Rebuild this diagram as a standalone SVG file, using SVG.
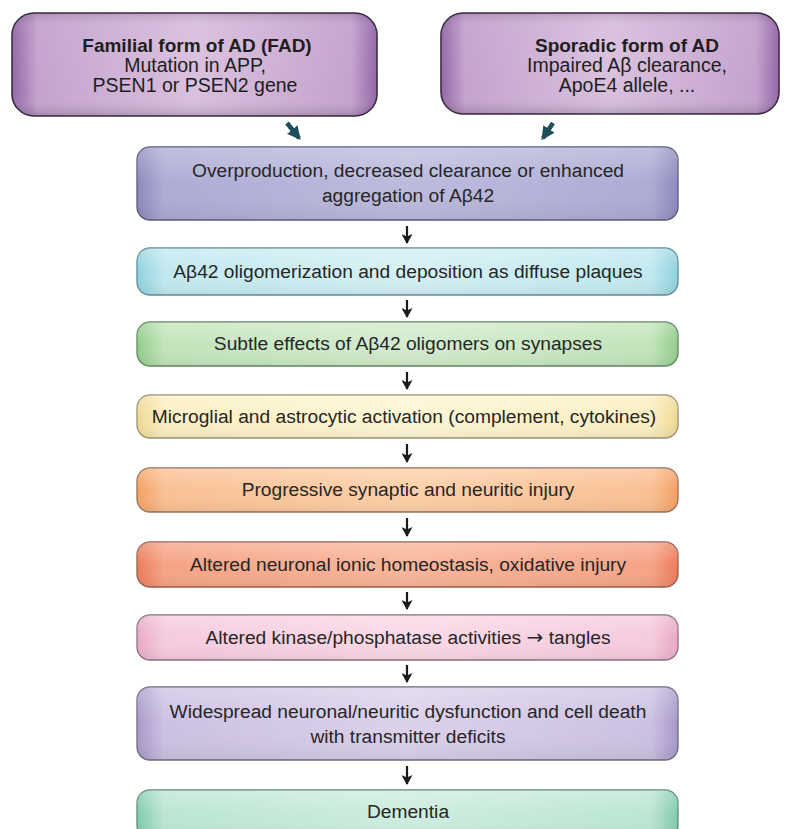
<svg xmlns="http://www.w3.org/2000/svg" width="792" height="829" viewBox="0 0 792 829">
<style>
  text { font-family: "Liberation Sans", Arial, sans-serif; fill: #262626; text-anchor: middle; }
  .t { font-size: 19.2px; }
  .h { font-size: 19px; font-weight: bold; fill: #1e1e1e; }
  .s { font-size: 19.5px; fill: #1e1e1e; }
  .sym { font-family: "DejaVu Sans", sans-serif; font-size: 20px; }
  .box { stroke-width: 1.3; }
  .top { stroke: #3b2b42; stroke-width: 1.6; }
  .conn { stroke: #1a1a1a; stroke-width: 2.2; fill: none; }
  .teal { stroke: #1f4e5a; stroke-width: 4.5; fill: none; }
</style>
<defs>
  <linearGradient id="gTop" x1="0" y1="0" x2="1" y2="0">
    <stop offset="0" stop-color="#9266a8"/>
    <stop offset="0.07" stop-color="#c4a2cd"/>
    <stop offset="0.5" stop-color="#d9c0de"/>
    <stop offset="0.93" stop-color="#c4a2cd"/>
    <stop offset="1" stop-color="#9266a8"/>
  </linearGradient>
  <linearGradient id="vShade" x1="0" y1="0" x2="0" y2="1">
    <stop offset="0" stop-color="#000" stop-opacity="0.12"/>
    <stop offset="0.12" stop-color="#fff" stop-opacity="0.05"/>
    <stop offset="0.8" stop-color="#fff" stop-opacity="0"/>
    <stop offset="1" stop-color="#000" stop-opacity="0.16"/>
  </linearGradient>
  <linearGradient id="mShade" x1="0" y1="0" x2="0" y2="1">
    <stop offset="0" stop-color="#fff" stop-opacity="0.25"/>
    <stop offset="0.5" stop-color="#fff" stop-opacity="0"/>
    <stop offset="1" stop-color="#000" stop-opacity="0.06"/>
  </linearGradient>
  <linearGradient id="g1" x1="0" y1="0" x2="1" y2="0"><stop offset="0" stop-color="#8d89bd"/><stop offset="0.05" stop-color="#aeabd5"/><stop offset="0.5" stop-color="#bdbbdd"/><stop offset="0.95" stop-color="#aeabd5"/><stop offset="1" stop-color="#8d89bd"/></linearGradient>
  <linearGradient id="g2" x1="0" y1="0" x2="1" y2="0"><stop offset="0" stop-color="#8fd1dd"/><stop offset="0.05" stop-color="#c1e9ef"/><stop offset="0.5" stop-color="#d3f0f4"/><stop offset="0.95" stop-color="#c1e9ef"/><stop offset="1" stop-color="#8fd1dd"/></linearGradient>
  <linearGradient id="g3" x1="0" y1="0" x2="1" y2="0"><stop offset="0" stop-color="#92cc8b"/><stop offset="0.05" stop-color="#c3e4bb"/><stop offset="0.5" stop-color="#d3ebcd"/><stop offset="0.95" stop-color="#c3e4bb"/><stop offset="1" stop-color="#92cc8b"/></linearGradient>
  <linearGradient id="g4" x1="0" y1="0" x2="1" y2="0"><stop offset="0" stop-color="#efd993"/><stop offset="0.05" stop-color="#fbefc2"/><stop offset="0.5" stop-color="#fdf6d4"/><stop offset="0.95" stop-color="#fbefc2"/><stop offset="1" stop-color="#efd993"/></linearGradient>
  <linearGradient id="g5" x1="0" y1="0" x2="1" y2="0"><stop offset="0" stop-color="#f4a062"/><stop offset="0.05" stop-color="#fac094"/><stop offset="0.5" stop-color="#fcd0a8"/><stop offset="0.95" stop-color="#fac094"/><stop offset="1" stop-color="#f4a062"/></linearGradient>
  <linearGradient id="g6" x1="0" y1="0" x2="1" y2="0"><stop offset="0" stop-color="#ec7b5b"/><stop offset="0.05" stop-color="#f6a486"/><stop offset="0.5" stop-color="#f9b69a"/><stop offset="0.95" stop-color="#f6a486"/><stop offset="1" stop-color="#ec7b5b"/></linearGradient>
  <linearGradient id="g7" x1="0" y1="0" x2="1" y2="0"><stop offset="0" stop-color="#e8a9c8"/><stop offset="0.05" stop-color="#f6cbdd"/><stop offset="0.5" stop-color="#fad8e6"/><stop offset="0.95" stop-color="#f6cbdd"/><stop offset="1" stop-color="#e8a9c8"/></linearGradient>
  <linearGradient id="g8" x1="0" y1="0" x2="1" y2="0"><stop offset="0" stop-color="#a898c9"/><stop offset="0.05" stop-color="#cdc1e2"/><stop offset="0.5" stop-color="#dbd1ea"/><stop offset="0.95" stop-color="#cdc1e2"/><stop offset="1" stop-color="#a898c9"/></linearGradient>
  <linearGradient id="g9" x1="0" y1="0" x2="1" y2="0"><stop offset="0" stop-color="#80cbac"/><stop offset="0.05" stop-color="#bce6d3"/><stop offset="0.5" stop-color="#cdeddf"/><stop offset="0.95" stop-color="#bce6d3"/><stop offset="1" stop-color="#80cbac"/></linearGradient>
  <marker id="ah" viewBox="0 0 10 10" refX="9" refY="5" markerWidth="4.5" markerHeight="5" orient="auto" markerUnits="strokeWidth" preserveAspectRatio="none">
    <path d="M0,0 L10,5 L0,10 L2.5,5 z" fill="#1a1a1a"/>
  </marker>
  <marker id="ahT" viewBox="0 0 10 10" refX="8" refY="5" markerWidth="3" markerHeight="3" orient="auto" markerUnits="strokeWidth">
    <path d="M0,0 L10,5 L0,10 z" fill="#1f4e5a"/>
  </marker>
</defs>

<rect width="792" height="829" fill="#ffffff"/>

<g id="fad">
  <rect class="top" x="12" y="13" width="365" height="103" rx="22" fill="url(#gTop)"/>
  <rect x="12" y="13" width="365" height="103" rx="22" fill="url(#vShade)"/>
  <text class="h" x="197" y="52">Familial form of AD (FAD)</text>
  <text class="s" x="195" y="72">Mutation in APP,</text>
  <text class="s" x="195" y="92">PSEN1 or PSEN2 gene</text>
</g>

<g id="sporadic">
  <rect class="top" x="441" y="13" width="338" height="101" rx="22" fill="url(#gTop)"/>
  <rect x="441" y="13" width="338" height="101" rx="22" fill="url(#vShade)"/>
  <text class="h" x="627" y="52">Sporadic form of AD</text>
  <text class="s" x="627" y="72">Impaired Aβ clearance,</text>
  <text class="s" x="627" y="92">ApoE4 allele, ...</text>
</g>

<g id="n1">
  <rect class="box" x="137" y="147" width="541" height="73" rx="13" fill="url(#g1)" stroke="#585c7c"/>
  <rect x="137" y="147" width="541" height="73" rx="13" fill="url(#mShade)"/>
  <text class="t" x="408" y="177">Overproduction, decreased clearance or enhanced</text>
  <text class="t" x="408" y="202">aggregation of Aβ42</text>
</g>
<g id="n2">
  <rect class="box" x="137" y="248" width="541" height="47" rx="13" fill="url(#g2)" stroke="#5e8e95"/>
  <rect x="137" y="248" width="541" height="47" rx="13" fill="url(#mShade)"/>
  <text class="t" x="408" y="278">Aβ42 oligomerization and deposition as diffuse plaques</text>
</g>
<g id="n3">
  <rect class="box" x="137" y="322" width="541" height="44" rx="13" fill="url(#g3)" stroke="#628a60"/>
  <rect x="137" y="322" width="541" height="44" rx="13" fill="url(#mShade)"/>
  <text class="t" x="408" y="350">Subtle effects of Aβ42 oligomers on synapses</text>
</g>
<g id="n4">
  <rect class="box" x="137" y="395" width="541" height="43" rx="13" fill="url(#g4)" stroke="#9c9470"/>
  <rect x="137" y="395" width="541" height="43" rx="13" fill="url(#mShade)"/>
  <text class="t" x="404" y="423">Microglial and astrocytic activation (complement, cytokines)</text>
</g>
<g id="n5">
  <rect class="box" x="137" y="468" width="541" height="44" rx="13" fill="url(#g5)" stroke="#9a7258"/>
  <rect x="137" y="468" width="541" height="44" rx="13" fill="url(#mShade)"/>
  <text class="t" x="408" y="496">Progressive synaptic and neuritic injury</text>
</g>
<g id="n6">
  <rect class="box" x="137" y="542" width="541" height="45" rx="13" fill="url(#g6)" stroke="#9a6050"/>
  <rect x="137" y="542" width="541" height="45" rx="13" fill="url(#mShade)"/>
  <text class="t" x="408" y="571">Altered neuronal ionic homeostasis, oxidative injury</text>
</g>
<g id="n7">
  <rect class="box" x="137" y="615" width="541" height="45" rx="13" fill="url(#g7)" stroke="#8c7280"/>
  <rect x="137" y="615" width="541" height="45" rx="13" fill="url(#mShade)"/>
  <text class="t" x="408" y="644">Altered kinase/phosphatase activities <tspan class="sym">→</tspan> tangles</text>
</g>
<g id="n8">
  <rect class="box" x="137" y="687" width="541" height="73" rx="13" fill="url(#g8)" stroke="#706880"/>
  <rect x="137" y="687" width="541" height="73" rx="13" fill="url(#mShade)"/>
  <text class="t" x="408" y="718">Widespread neuronal/neuritic dysfunction and cell death</text>
  <text class="t" x="408" y="743">with transmitter deficits</text>
</g>
<g id="n9">
  <rect class="box" x="137" y="790" width="541" height="48" rx="13" fill="url(#g9)" stroke="#5e8c7a"/>
  <rect x="137" y="790" width="541" height="48" rx="13" fill="url(#mShade)"/>
  <text class="t" x="408" y="818">Dementia</text>
</g>

<g id="connectors">
  <line class="teal" x1="287" y1="123" x2="299" y2="138" marker-end="url(#ahT)"/>
  <line class="teal" x1="553" y1="123" x2="543" y2="138" marker-end="url(#ahT)"/>
  <line class="conn" x1="407" y1="226" x2="407" y2="243" marker-end="url(#ah)"/>
  <line class="conn" x1="407" y1="300" x2="407" y2="317" marker-end="url(#ah)"/>
  <line class="conn" x1="407" y1="372" x2="407" y2="389" marker-end="url(#ah)"/>
  <line class="conn" x1="407" y1="444" x2="407" y2="462" marker-end="url(#ah)"/>
  <line class="conn" x1="407" y1="518" x2="407" y2="536" marker-end="url(#ah)"/>
  <line class="conn" x1="407" y1="592" x2="407" y2="609" marker-end="url(#ah)"/>
  <line class="conn" x1="407" y1="665" x2="407" y2="682" marker-end="url(#ah)"/>
  <line class="conn" x1="407" y1="766" x2="407" y2="784" marker-end="url(#ah)"/>
</g>
</svg>
